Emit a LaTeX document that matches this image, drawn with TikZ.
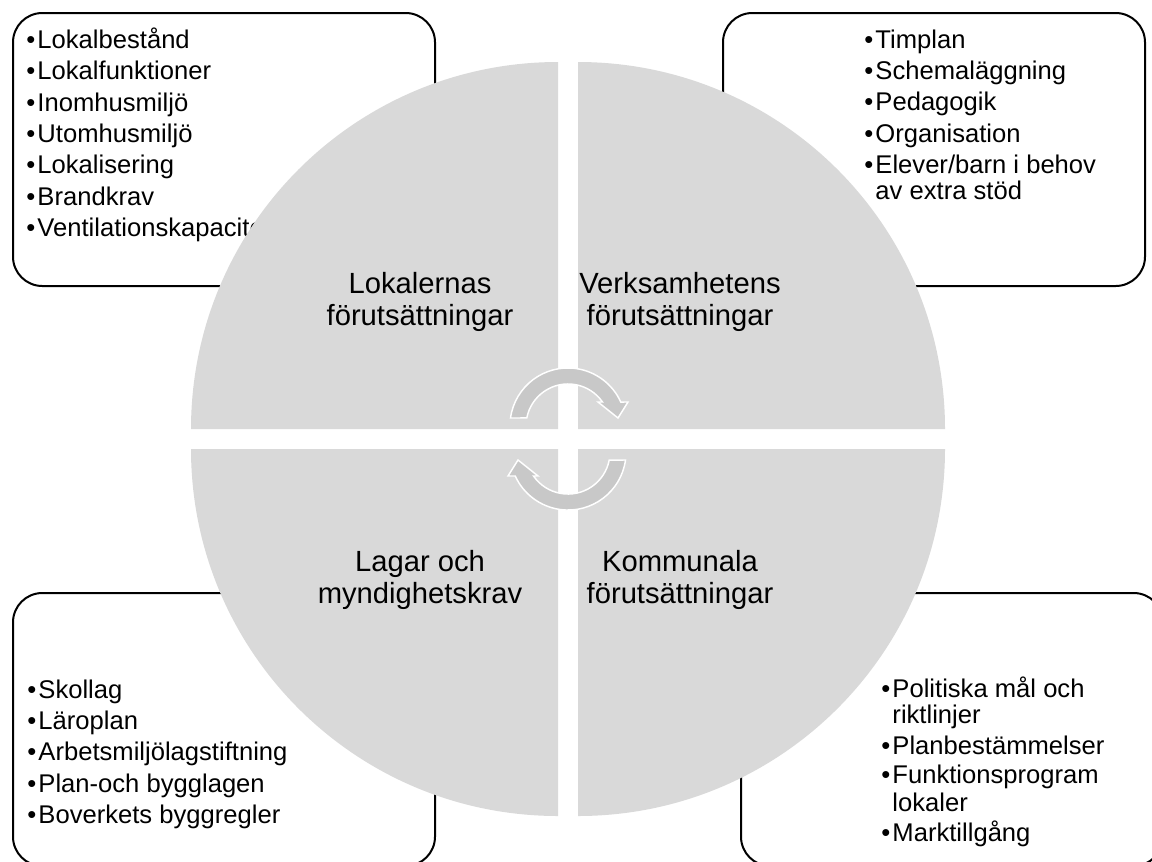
\documentclass[tikz,border=0pt]{standalone}
\usepackage{fontspec}
\setmainfont{Liberation Sans}

\definecolor{quadgray}{HTML}{D9D9D9}
\definecolor{arrowgray}{HTML}{C8C8C8}

\tikzset{
  listbox/.style={draw=black, line width=1.5pt, rounded corners=22pt},
  quad/.style={fill=quadgray},
  cyclearrow/.style={fill=arrowgray, draw=white, line width=1.1pt},
  itm/.style={anchor=base west, inner sep=0pt, font=\fontsize{19.2}{22}\selectfont},
  qlabel/.style={align=center, inner sep=0pt, font=\fontsize{21.9}{24}\selectfont}
}
\newcommand{\blt}{\makebox[8.4pt][l]{•}}

\begin{document}
\begin{tikzpicture}[x=0.75pt, y=-0.75pt]
\useasboundingbox (0,0) rectangle (1152,861);
\clip (0,0) rectangle (1152,861);

% corner boxes
\draw[listbox] (13,13) rectangle (435,286);
\draw[listbox] (723,13) rectangle (1145,286);
\draw[listbox] (13,593) rectangle (435,866);
\draw[listbox] (741,593) rectangle (1163,866);

% top left list
\node[itm] (tl1) at (26,48) {\blt Lokalbestånd};
\node[itm] (tl2) at (26,79) {\blt Lokalfunktioner};
\node[itm] (tl3) at (26,111) {\blt Inomhusmiljö};
\node[itm] (tl4) at (26,142) {\blt Utomhusmiljö};
\node[itm] (tl5) at (26,173) {\blt Lokalisering};
\node[itm] (tl6) at (26,205) {\blt Brandkrav};
\node[itm] (tl7) at (26,236) {\blt Ventilationskapacitet};

% top right list
\node[itm] (tr1) at (864,48) {\blt Timplan};
\node[itm] (tr2) at (864,79) {\blt Schemaläggning};
\node[itm] (tr3) at (864,110) {\blt Pedagogik};
\node[itm] (tr4) at (864,142) {\blt Organisation};
\node[itm] (tr5) at (864,173) {\blt Elever/barn i behov};
\node[itm] (tr5b) at (875.2,199) {av extra stöd};

% bottom left list
\node[itm] (bl1) at (27,698) {\blt Skollag};
\node[itm] (bl2) at (27,729) {\blt Läroplan};
\node[itm] (bl3) at (27,760) {\blt Arbetsmiljölagstiftning};
\node[itm] (bl4) at (27,792) {\blt Plan-och bygglagen};
\node[itm] (bl5) at (27,823) {\blt Boverkets byggregler};

% bottom right list
\node[itm] (br1) at (881,697) {\blt Politiska mål och};
\node[itm] (br1b) at (892.2,723.5) {riktlinjer};
\node[itm] (br2) at (881,754.5) {\blt Planbestämmelser};
\node[itm] (br3) at (881,783) {\blt Funktionsprogram};
\node[itm] (br3b) at (892.2,811.5) {lokaler};
\node[itm] (br4) at (881,841) {\blt Marktillgång};

% circle quadrants
\path[quad] (558,429) -- (191,429) arc[start angle=180, end angle=270, radius=367] -- cycle;
\path[quad] (578,429) -- (578,62) arc[start angle=270, end angle=360, radius=367] -- cycle;
\path[quad] (578,449) -- (945,449) arc[start angle=0, end angle=90, radius=367] -- cycle;
\path[quad] (558,449) -- (558,816) arc[start angle=90, end angle=180, radius=367] -- cycle;

\node[qlabel] (lokal) at (420,301.5) {Lokalernas\\förutsättningar};
\node[qlabel] (verks) at (680,301.5) {Verksamhetens\\förutsättningar};
\node[qlabel] (lagar) at (420,580) {Lagar och\\myndighetskrav};
\node[qlabel] (komm) at (680,580) {Kommunala\\förutsättningar};

% cycle arrows
\path[cyclearrow] (510.5,418) arc[start angle=-172.1, end angle=-24.4, radius=58]
  -- (628,402) -- (618,418) -- (598,402) -- (602.5,402)
  arc[start angle=-34.8, end angle=-169, radius=42] -- cycle;
\begin{scope}[rotate around={180:(568,439)}]
\path[cyclearrow] (510.5,418) arc[start angle=-172.1, end angle=-24.4, radius=58]
  -- (628,402) -- (618,418) -- (598,402) -- (602.5,402)
  arc[start angle=-34.8, end angle=-169, radius=42] -- cycle;
\end{scope}
\end{tikzpicture}
\end{document}
